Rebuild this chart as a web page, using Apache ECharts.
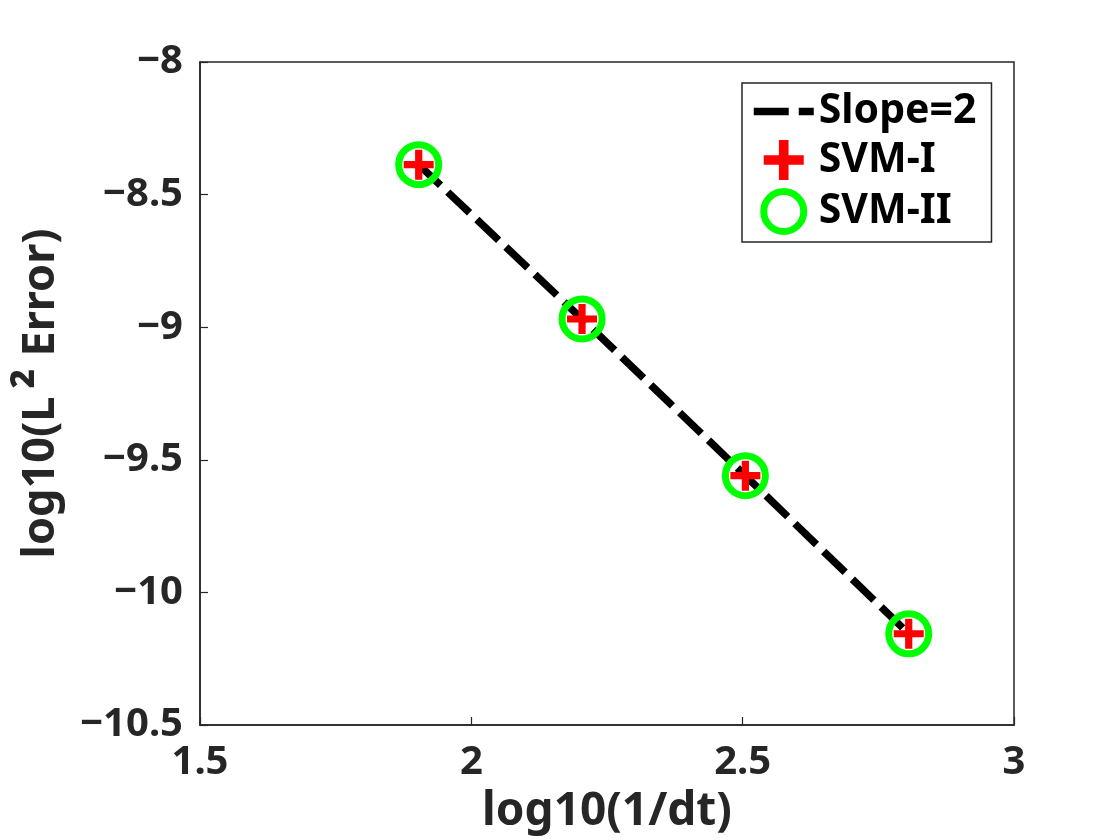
<!DOCTYPE html>
<html>
<head>
<meta charset="utf-8">
<script src="https://cdn.jsdelivr.net/npm/echarts@6/dist/echarts.min.js"></script>
<style>
html,body{margin:0;padding:0;background:#fff;}
#chart{width:1120px;height:840px;}
</style>
</head>
<body>
<div id="chart"></div>
<script>
// log10(1/dt)
var xValues = [1.903, 2.204, 2.505, 2.806];
// log10(L2 error)
var slopeLine = [-8.387, -8.969, -9.560, -10.156];
var svm1 = [-8.387, -8.969, -9.560, -10.156];
var svm2 = [-8.387, -8.969, -9.560, -10.156];
var seriesNames = ['Slope=2', 'SVM-I', 'SVM-II'];
var xTicks = [1.5, 2, 2.5, 3];
var yTicks = [-10.5, -10, -9.5, -9, -8.5, -8];

function pairs(xs, ys) { return xs.map(function (x, i) { return [x, ys[i]]; }); }

var FONT = '"Noto Sans", "Liberation Sans", sans-serif';
var TXT = '#262626';
var plusPath = 'path://M38,0 H62 V38 H100 V62 H62 V100 H38 V62 H0 V38 H38 Z';

var chart = echarts.init(document.getElementById('chart'), null, {renderer: 'canvas'});
chart.setOption({
  animation: false,
  backgroundColor: '#fff',
  grid: {
    left: 200, right: 106, top: 62, bottom: 115,
    containLabel: false, outerBoundsMode: 'none',
    show: true, borderColor: TXT, borderWidth: 1.5, backgroundColor: 'transparent'
  },
  legend: {
    data: [
      {name: seriesNames[0], itemStyle: {color: 'rgba(0,0,0,0)', borderWidth: 0, opacity: 0}},
      {name: seriesNames[1]},
      {name: seriesNames[2], itemStyle: {color: 'rgba(0,0,0,0)', borderColor: '#00ff00', borderWidth: 7}}
    ],
    orient: 'vertical',
    left: 742, top: 83,
    padding: [8, 15, 7, 8],
    itemGap: 7.5,
    itemWidth: 60, itemHeight: 40,
    borderColor: TXT, borderWidth: 1.5,
    backgroundColor: '#fff',
    selectedMode: false,
    lineStyle: {type: [35, 10], width: 7.5, cap: 'butt'},
    textStyle: {fontFamily: FONT, fontWeight: 'bold', fontSize: 41, color: '#000', lineHeight: 40}
  },
  xAxis: {
    type: 'value', min: xTicks[0], max: xTicks[xTicks.length - 1], interval: 0.5,
    name: 'log10(1/dt)', nameLocation: 'middle', nameGap: 64,
    nameTextStyle: {fontFamily: FONT, fontWeight: 'bold', fontSize: 46, color: TXT},
    axisLine: {show: true, onZero: false, lineStyle: {color: TXT, width: 1.5}},
    axisTick: {show: true, inside: true, length: 8, lineStyle: {color: TXT, width: 1.2}},
    splitLine: {show: false},
    axisLabel: {margin: 18, fontFamily: FONT, fontWeight: 'bold', fontSize: 40, color: TXT,
      formatter: function (v) { return String(v).replace('-', '\u2212'); }}
  },
  yAxis: {
    type: 'value', min: yTicks[0], max: yTicks[yTicks.length - 1], interval: 0.5,
    name: 'log10(L{sup|\u00b2} Error)', nameLocation: 'middle', nameGap: 132, nameRotate: 90,
    nameTextStyle: {fontFamily: FONT, fontWeight: 'bold', fontSize: 45, color: TXT,
      rich: {sup: {fontFamily: FONT, fontWeight: 'bold', fontSize: 54, color: TXT, padding: [0, 0, 0, 8]}}},
    axisLine: {show: true, onZero: false, lineStyle: {color: TXT, width: 1.5}},
    axisTick: {show: true, inside: true, length: 8, lineStyle: {color: TXT, width: 1.2}},
    splitLine: {show: false},
    axisLabel: {margin: 17, fontFamily: FONT, fontWeight: 'bold', fontSize: 40, color: TXT,
      formatter: function (v) { return String(v).replace('-', '\u2212'); }}
  },
  series: [
    {
      name: seriesNames[0], type: 'line', data: pairs(xValues, slopeLine),
      symbol: 'none', z: 2,
      lineStyle: {color: '#000', width: 7.5, type: [30, 10], cap: 'butt'},
      itemStyle: {color: '#000'}
    },
    {
      name: seriesNames[1], type: 'scatter', data: pairs(xValues, svm1),
      symbol: plusPath, symbolSize: 30, z: 3,
      itemStyle: {color: '#ff0000', opacity: 1}
    },
    {
      name: seriesNames[2], type: 'scatter', data: pairs(xValues, svm2),
      symbol: 'circle', symbolSize: 40, z: 4,
      itemStyle: {color: 'rgba(0,0,0,0)', borderColor: '#00ff00', borderWidth: 7, opacity: 1}
    }
  ]
});
</script>
</body>
</html>
